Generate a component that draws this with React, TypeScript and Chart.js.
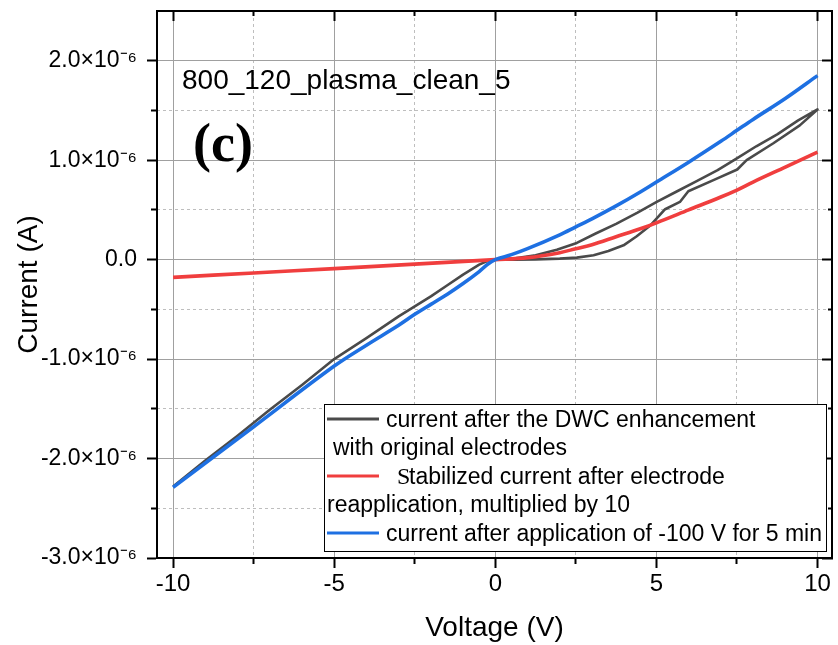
import React, { useEffect, useRef } from 'react';
import { Chart, registerables } from 'chart.js';

Chart.register(...registerables);

// Current values are given in units of 1e-6 A
const UNIT = 1e-6;

// Black: current after the DWC enhancement (sweep -10 -> 0 -> 10 (lower branch) -> 0 (upper branch))
const dwcVoltage = [
  -10, -9, -8, -7, -6, -5, -4, -3, -2.5, -2, -1.5, -1, -0.5, -0.25, 0,
  0.6, 1.25, 2, 2.53, 3.05, 3.51, 3.98, 4.39, 4.8, 5.27, 5.73, 5.99, 6.77, 7.51, 7.8, 8.63, 9.45, 10,
  9.4, 8.75, 8.1, 7.51, 6.9, 6.25, 5.6, 5.01, 4.4, 3.75, 3.1, 2.53, 1.91, 1.25, 0.57, 0,
];
const dwcCurrent = [
  -2.28, -2.02, -1.77, -1.51, -1.26, -1.0, -0.79, -0.57, -0.47, -0.37, -0.26, -0.15, -0.05, -0.015, 0,
  0.0, 0.003, 0.01, 0.02, 0.044, 0.087, 0.144, 0.235, 0.34, 0.507, 0.58, 0.688, 0.8, 0.906, 1.0, 1.17, 1.35, 1.51,
  1.4, 1.26, 1.14, 1.02, 0.9, 0.79, 0.68, 0.58, 0.47, 0.36, 0.26, 0.168, 0.1, 0.044, 0.01, 0,
];

// Red: stabilized current after electrode reapplication, multiplied by 10
const stabVoltage = [-10, -7.5, -5, -2.5, 0, 1, 2, 2.5, 3, 3.75, 4.5, 5, 6, 7, 7.5, 8, 9, 10];
const stabCurrent = [-0.178, -0.134, -0.09, -0.045, 0, 0.02, 0.07, 0.11, 0.15, 0.23, 0.31, 0.37, 0.5, 0.63, 0.7, 0.78, 0.93, 1.08];

// Blue: current after application of -100 V for 5 min
const appliedVoltage = [-10, -7.5, -5, -4, -3, -2.5, -2, -1.5, -1, -0.5, -0.25, 0, 0.5, 1, 2, 2.5, 3, 3.75, 4.5, 5, 6, 7, 7.5, 8, 9, 10];
const appliedCurrent = [-2.29, -1.68, -1.07, -0.86, -0.66, -0.55, -0.45, -0.35, -0.24, -0.12, -0.05, 0, 0.05, 0.11, 0.25, 0.33, 0.41, 0.54, 0.68, 0.78, 0.98, 1.19, 1.3, 1.41, 1.62, 1.85];

const LEGEND_LINES = [
  ['current after the DWC enhancement', 'with original electrodes'],
  ['Stabilized current after electrode', 'reapplication, multiplied by 10'],
  ['current after application of -100 V for 5 min'],
];
const SAMPLE_NAME = '800_120_plasma_clean_5';
const PANEL_LABEL = '(c)';
const X_TITLE = 'Voltage (V)';
const Y_TITLE = 'Current (A)';

const X_MIN = -10.5;
const X_MAX = 10.45;
const X_STEP = 2.5;
const Y_MIN = -3;
const Y_MAX = 2.5;
const Y_STEP = 0.5;

const COLORS = ['rgb(74,74,74)', 'rgb(240,62,62)', 'rgb(30,112,226)'];

const FONT_SANS = '"Liberation Sans", Arial, Helvetica, sans-serif';
const FONT_SERIF = '"Liberation Serif", "Times New Roman", serif';

const toPoints = (v: number[], c: number[]) => v.map((x, k) => ({ x, y: c[k] * UNIT }));

const isMajorX = (v: number) => Math.abs(v / 5 - Math.round(v / 5)) < 1e-6;
const isMajorY = (v: number) => {
  const u = v / UNIT;
  return Math.abs(u - Math.round(u)) < 1e-6;
};
const yLabel = (v: number) => {
  const u = Math.round((v / UNIT) * 10) / 10;
  if (Math.abs(u) < 1e-9) return '0.0';
  return `${u.toFixed(1)}×10⁻⁶`;
};

const MAJOR_GRID = 'rgb(160,160,160)';
const MINOR_GRID = 'rgb(190,190,190)';

const overlayPlugin = {
  id: 'overlay',
  afterDatasetsDraw(chart: any) {
    const { ctx } = chart;
    ctx.save();
    ctx.fillStyle = '#000';
    ctx.textAlign = 'left';
    ctx.textBaseline = 'alphabetic';
    ctx.font = `28px ${FONT_SANS}`;
    ctx.fillText(SAMPLE_NAME, 182, 89);
    ctx.font = `bold 54px ${FONT_SERIF}`;
    ctx.fillText(PANEL_LABEL, 193, 161);

    // legend box
    const bx = 324, by = 404, bw = 502, bh = 147;
    ctx.fillStyle = '#fff';
    ctx.fillRect(bx, by, bw, bh);
    ctx.strokeStyle = '#000';
    ctx.lineWidth = 1;
    ctx.strokeRect(bx + 0.5, by + 0.5, bw, bh);

    const sampleY = [419, 476, 533];
    const baselines = [[427, 455], [484, 512], [541]];
    const firstX = [386, 409, 386];
    const secondX = [333, 327];
    const datasets = chart.data.datasets;
    LEGEND_LINES.forEach((lines, k) => {
      ctx.strokeStyle = datasets[k].borderColor;
      ctx.lineWidth = 3;
      ctx.beginPath();
      ctx.moveTo(327, sampleY[k]);
      ctx.lineTo(379, sampleY[k]);
      ctx.stroke();
      ctx.fillStyle = '#000';
      ctx.font = `23px ${FONT_SANS}`;
      if (k === 1) {
        ctx.font = `24px ${FONT_SERIF}`;
        ctx.fillText(lines[0].charAt(0), 397, baselines[k][0]);
        ctx.font = `23px ${FONT_SANS}`;
        ctx.fillText(lines[0].slice(1), firstX[k], baselines[k][0]);
      } else {
        ctx.fillText(lines[0], firstX[k], baselines[k][0]);
      }
      if (lines[1]) ctx.fillText(lines[1], secondX[k], baselines[k][1]);
    });
    ctx.restore();
  },
};

export default function App() {
  const ref = useRef<HTMLCanvasElement | null>(null);
  useEffect(() => {
    if (!ref.current) return;
    const tickFont = { family: FONT_SANS, size: 23 };
    const chart = new Chart(ref.current, {
      type: 'scatter',
      data: {
        datasets: [
          {
            label: LEGEND_LINES[0].join(' '),
            data: toPoints(dwcVoltage, dwcCurrent),
            showLine: true,
            borderColor: COLORS[0],
            backgroundColor: COLORS[0],
            borderWidth: 2.6,
            borderJoinStyle: 'round',
            pointRadius: 0,
            tension: 0,
            order: 3,
          },
          {
            label: LEGEND_LINES[1].join(' '),
            data: toPoints(stabVoltage, stabCurrent),
            showLine: true,
            borderColor: COLORS[1],
            backgroundColor: COLORS[1],
            borderWidth: 3.6,
            borderJoinStyle: 'round',
            pointRadius: 0,
            tension: 0.35,
            order: 2,
          },
          {
            label: LEGEND_LINES[2].join(' '),
            data: toPoints(appliedVoltage, appliedCurrent),
            showLine: true,
            borderColor: COLORS[2],
            backgroundColor: COLORS[2],
            borderWidth: 3.6,
            borderJoinStyle: 'round',
            pointRadius: 0,
            tension: 0.35,
            order: 1,
          },
        ],
      },
      options: {
        responsive: false,
        animation: false,
        layout: { padding: 0 },
        plugins: { legend: { display: false }, tooltip: { enabled: false } },
        scales: {
          x: {
            type: 'linear',
            position: 'bottom',
            min: X_MIN,
            max: X_MAX,
            weight: 1,
            afterFit: (s: any) => { s.height = 87; s.paddingLeft = 0; s.paddingRight = 0; },
            ticks: {
              stepSize: X_STEP,
              includeBounds: false,
              autoSkip: false,
              maxRotation: 0,
              padding: 2,
              color: '#000',
              font: { family: FONT_SANS, size: 24 },
              callback: (v: any) => (isMajorX(Number(v)) ? String(Number(v)) : ''),
            },
            grid: {
              color: (c: any) => (isMajorX(c.tick.value) ? MAJOR_GRID : 'rgba(0,0,0,0)'),
              lineWidth: 1,
              tickLength: 10,
              tickColor: '#000',
              tickWidth: 2,
              tickBorderDash: (c: any) => (isMajorX(c.tick.value) ? [] : [5, 100]),
            },
            border: { color: '#000', width: 2 },
            title: {
              display: true,
              text: X_TITLE,
              color: '#000',
              font: { family: FONT_SANS, size: 28 },
              padding: { top: 0, bottom: 0 },
            },
          },
          xTop: {
            type: 'linear',
            position: 'top',
            min: X_MIN,
            max: X_MAX,
            afterFit: (s: any) => { s.height = 11; s.paddingLeft = 0; s.paddingRight = 0; },
            ticks: { display: false, stepSize: X_STEP, includeBounds: false, autoSkip: false },
            grid: {
              color: (c: any) => (isMajorX(c.tick.value) ? 'rgba(0,0,0,0)' : MINOR_GRID),
              lineWidth: 1,
              tickLength: -10,
              tickColor: '#000',
              tickWidth: 2,
              tickBorderDash: (c: any) => (isMajorX(c.tick.value) ? [] : [0, 5, 5, 100]),
            },
            border: { color: '#000', width: 2, dash: [3, 3] },
          },
          y: {
            type: 'linear',
            position: 'left',
            min: Y_MIN * UNIT,
            max: Y_MAX * UNIT,
            afterFit: (s: any) => { s.width = 157; s.paddingTop = 0; s.paddingBottom = 0; },
            ticks: {
              stepSize: Y_STEP * UNIT,
              includeBounds: false,
              autoSkip: false,
              padding: 10,
              color: '#000',
              font: tickFont,
              callback: (v: any) => (isMajorY(Number(v)) ? yLabel(Number(v)) : ''),
            },
            grid: {
              color: (c: any) => (isMajorY(c.tick.value) ? MAJOR_GRID : 'rgba(0,0,0,0)'),
              lineWidth: 1,
              tickLength: 10,
              tickColor: '#000',
              tickWidth: 2,
              tickBorderDash: (c: any) => (isMajorY(c.tick.value) ? [] : [0, 4, 6, 100]),
            },
            border: { color: '#000', width: 2 },
            title: {
              display: true,
              text: Y_TITLE,
              color: '#000',
              font: { family: FONT_SANS, size: 28 },
              padding: { top: 12, bottom: 0 },
            },
          },
          yRight: {
            type: 'linear',
            position: 'right',
            min: Y_MIN * UNIT,
            max: Y_MAX * UNIT,
            afterFit: (s: any) => { s.width = 6; s.paddingTop = 0; s.paddingBottom = 0; },
            ticks: { display: false, stepSize: Y_STEP * UNIT, includeBounds: false, autoSkip: false },
            grid: {
              color: (c: any) => (isMajorY(c.tick.value) ? 'rgba(0,0,0,0)' : MINOR_GRID),
              lineWidth: 1,
              tickLength: -10,
              tickColor: '#000',
              tickWidth: 2,
              tickBorderDash: (c: any) => (isMajorY(c.tick.value) ? [] : [5, 100]),
            },
            border: { color: '#000', width: 2, dash: [3, 3] },
          },
        },
      } as any,
      plugins: [overlayPlugin],
    });
    return () => chart.destroy();
  }, []);

  return (
    <div style={{ position: 'absolute', left: 0, top: 0, width: 838, height: 645, background: '#fff' }}>
      <canvas ref={ref} width={838} height={645} style={{ display: 'block', width: 838, height: 645 }} />
    </div>
  );
}
